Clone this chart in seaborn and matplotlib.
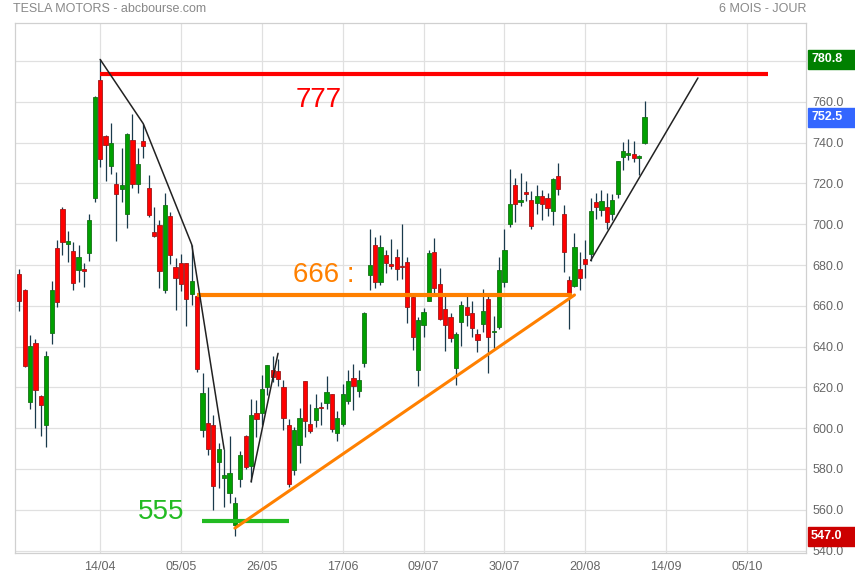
import numpy as np
import pandas as pd
import seaborn as sns
import matplotlib.pyplot as plt
from matplotlib.patches import Rectangle
from matplotlib.transforms import blended_transform_factory

# daily candles, 23/03 -> 07/09
dates = ['23/03', '24/03', '25/03', '26/03', '29/03', '30/03', '31/03', '01/04', '05/04', '06/04',
         '07/04', '08/04', '09/04', '12/04', '13/04', '14/04', '15/04', '16/04', '19/04', '20/04',
         '21/04', '22/04', '23/04', '26/04', '27/04', '28/04', '29/04', '30/04', '03/05', '04/05',
         '05/05', '06/05', '07/05', '10/05', '11/05', '12/05', '13/05', '14/05', '17/05', '18/05',
         '19/05', '20/05', '21/05', '24/05', '25/05', '26/05', '27/05', '28/05', '01/06', '02/06',
         '03/06', '04/06', '07/06', '08/06', '09/06', '10/06', '11/06', '14/06', '15/06', '16/06',
         '17/06', '18/06', '21/06', '22/06', '23/06', '24/06', '25/06', '28/06', '29/06', '30/06',
         '01/07', '02/07', '06/07', '07/07', '08/07', '09/07', '12/07', '13/07', '14/07', '15/07',
         '16/07', '19/07', '20/07', '21/07', '22/07', '23/07', '26/07', '27/07', '28/07', '29/07',
         '30/07', '02/08', '03/08', '04/08', '05/08', '06/08', '09/08', '10/08', '11/08', '12/08',
         '13/08', '16/08', '17/08', '18/08', '19/08', '20/08', '23/08', '24/08', '25/08', '26/08',
         '27/08', '30/08', '31/08', '01/09', '02/09', '03/09', '07/09']

opens = [675.8, 667.9, 613.0, 641.9, 615.6, 601.8, 646.6, 688.4, 707.7, 690.3,
         687.0, 677.4, 677.8, 685.7, 712.7, 770.7, 743.1, 728.7, 719.6, 717.4,
         704.8, 741.5, 719.8, 741.0, 718.0, 696.4, 699.5, 667.6, 703.8, 678.9,
         681.1, 680.8, 665.8, 664.9, 599.2, 602.5, 601.5, 583.4, 575.6, 568.0,
         552.6, 575.0, 596.1, 581.6, 607.3, 607.6, 620.2, 628.5, 627.8, 620.1,
         601.8, 579.7, 591.8, 623.0, 602.2, 603.9, 610.2, 612.2, 616.7, 597.5,
         601.9, 613.4, 624.5, 618.3, 632.0, 675.0, 689.6, 671.6, 684.7, 679.8,
         683.9, 679.0, 681.7, 664.3, 628.4, 650.7, 662.2, 686.3, 670.8, 658.4,
         654.7, 629.3, 652.0, 659.6, 656.4, 646.4, 651.0, 663.4, 647.0, 649.8,
         671.8, 700.0, 719.0, 711.0, 716.0, 711.9, 710.2, 714.0, 712.7, 706.3,
         723.7, 705.1, 672.7, 669.8, 678.2, 682.9, 685.4, 710.7, 707.0, 708.3,
         705.0, 714.7, 733.0, 734.1, 734.5, 732.3, 740.0]
highs = [677.8, 668.0, 645.5, 643.8, 616.5, 637.7, 672.0, 692.4, 708.2, 696.6,
         691.4, 689.6, 681.0, 704.8, 763.0, 780.8, 743.7, 749.4, 725.4, 737.3,
         744.8, 753.8, 737.4, 749.3, 724.0, 708.5, 702.3, 715.5, 706.0, 683.5,
         685.3, 681.0, 690.0, 665.1, 627.1, 620.4, 606.5, 592.9, 589.7, 596.3,
         566.2, 588.9, 596.7, 614.5, 614.0, 626.2, 631.1, 635.6, 633.8, 623.4,
         604.6, 600.6, 610.0, 623.1, 611.8, 616.6, 612.6, 625.5, 616.8, 608.5,
         621.5, 628.4, 631.4, 628.6, 657.2, 697.6, 693.8, 694.7, 687.5, 692.8,
         688.0, 700.0, 684.0, 665.7, 654.4, 658.9, 687.2, 693.3, 678.6, 666.1,
         656.7, 647.2, 662.4, 664.9, 662.2, 648.8, 668.2, 666.5, 655.0, 683.7,
         697.5, 726.9, 722.7, 724.9, 721.0, 716.3, 719.0, 716.6, 715.2, 722.8,
         729.9, 709.5, 674.6, 695.8, 686.6, 692.1, 712.7, 715.2, 717.0, 715.4,
         715.0, 731.0, 740.4, 742.0, 741.0, 734.0, 760.2]
lows = [657.5, 630.1, 609.5, 599.9, 596.0, 591.0, 641.1, 659.4, 684.7, 681.4,
        667.8, 671.7, 669.4, 682.1, 710.7, 728.0, 721.3, 724.6, 691.8, 710.7,
        698.0, 718.0, 715.5, 732.6, 703.4, 693.6, 668.5, 666.1, 680.5, 657.7,
        667.3, 650.0, 660.2, 627.6, 595.6, 586.8, 559.7, 570.5, 561.2, 563.4,
        547.0, 571.1, 580.0, 573.7, 595.7, 601.5, 616.2, 622.4, 620.6, 599.1,
        571.2, 577.2, 582.9, 595.5, 597.6, 600.5, 601.5, 609.2, 598.2, 593.5,
        601.3, 611.8, 608.9, 615.5, 630.0, 667.6, 668.7, 670.3, 675.9, 678.1,
        672.8, 673.3, 651.4, 638.3, 620.5, 644.7, 662.2, 666.3, 652.8, 637.9,
        642.2, 621.3, 640.5, 650.3, 644.6, 637.3, 647.1, 627.2, 639.4, 648.8,
        669.0, 698.4, 701.0, 708.9, 711.4, 697.6, 705.1, 701.9, 704.2, 699.4,
        714.3, 676.4, 648.8, 669.4, 667.6, 673.7, 682.2, 702.6, 704.0, 697.6,
        702.1, 712.7, 726.4, 731.3, 730.5, 724.2, 739.3]
closes = [662.2, 630.3, 640.4, 618.7, 611.3, 635.6, 667.9, 661.8, 691.1, 691.6,
          671.0, 683.8, 677.0, 702.0, 762.3, 732.2, 738.9, 739.8, 714.6, 719.0,
          744.1, 719.7, 729.4, 738.2, 704.7, 694.4, 677.0, 709.4, 684.9, 673.6,
          670.9, 663.5, 672.4, 629.0, 617.2, 589.7, 571.7, 589.9, 576.8, 577.9,
          563.5, 586.8, 580.9, 606.4, 604.7, 619.1, 630.9, 625.2, 623.9, 605.1,
          572.8, 599.1, 605.1, 603.6, 598.8, 610.1, 609.9, 617.7, 599.4, 604.9,
          616.6, 623.3, 620.8, 623.7, 656.6, 679.8, 671.9, 688.7, 680.8, 679.7,
          677.9, 678.9, 659.6, 644.7, 652.8, 657.0, 685.7, 668.5, 653.4, 650.6,
          644.2, 646.2, 660.5, 655.3, 649.3, 643.4, 657.6, 644.8, 647.0, 677.4,
          687.2, 709.7, 709.7, 711.9, 714.6, 699.1, 713.8, 710.0, 707.8, 722.3,
          717.2, 686.2, 665.7, 689.0, 673.5, 680.3, 706.3, 708.5, 711.2, 701.2,
          711.9, 730.9, 735.7, 734.1, 732.4, 733.6, 752.5]

tick_labels = ['14/04', '05/05', '26/05', '17/06', '09/07', '30/07', '20/08', '14/09', '05/10']

# drawn levels / trend lines (candle index, price)
resist_level = 773.5
neck_level = 665.5
low_level = 554.7
fall_idx = [15, 23, 32, 38]
bounce_line = ([43, 48], [573.7, 636.7])
rise_line = ([106, 125.9], [682.2, 771.7])
support_line = ([40, 103], [551.0, 665.3])

df = pd.DataFrame({'date': dates, 'open': opens, 'high': highs, 'low': lows, 'close': closes})
df['x'] = np.arange(len(df))
df['up'] = df['close'] >= df['open']

sns.set_theme(style='white')
plt.rcParams['font.family'] = ['Liberation Sans', 'DejaVu Sans']

fig = plt.figure(figsize=(8.55, 5.8), dpi=100)
ax = fig.add_axes([14.7/855, 27/580, (806-14.7)/855, (553-22.7)/580])

GREEN = '#00a000'
RED = '#ff0000'
ax.vlines(df['x'], df['low'], df['high'], color='#1a3a4c', lw=0.9, zorder=2)
body = (df['close'] - df['open']).abs().clip(lower=0.7)
bottom = df[['open', 'close']].min(axis=1)
ax.bar(df['x'], body, bottom=bottom, width=0.78,
       color=np.where(df['up'], GREEN, RED),
       edgecolor=np.where(df['up'], '#167016', '#a01818'), linewidth=0.6, zorder=3)

# levels
ax.plot([15, 138.9], [resist_level] * 2, color='#ff0000', lw=3, zorder=4, solid_capstyle='butt')
ax.plot([33, 102.6], [neck_level] * 2, color='#ff8000', lw=3, zorder=4, solid_capstyle='butt')
ax.plot([33.9, 50], [low_level] * 2, color='#22bb22', lw=3, zorder=4, solid_capstyle='butt')
sns.lineplot(x=support_line[0], y=support_line[1], color='#ff8000', lw=2.2, ax=ax,
             sort=False, estimator=None, zorder=4, legend=False)
sns.lineplot(x=fall_idx, y=[highs[i] for i in fall_idx], color='#222222', lw=1.1, ax=ax,
             sort=False, estimator=None, zorder=4, legend=False)
sns.lineplot(x=bounce_line[0], y=bounce_line[1], color='#222222', lw=1.1, ax=ax,
             sort=False, estimator=None, zorder=4, legend=False)
sns.lineplot(x=rise_line[0], y=rise_line[1], color='#222222', lw=1.1, ax=ax,
             sort=False, estimator=None, zorder=4, legend=False)

ax.text(51.2, 760.9, '777', color='#ff0000', fontsize=20, va='center', ha='left', zorder=5)
ax.text(50.8, 675.1, '666 :', color='#ff8000', fontsize=20, va='center', ha='left', zorder=5)
ax.text(22.0, 558.9, '555', color='#22bb22', fontsize=20, va='center', ha='left', zorder=5)

ax.set_xlim(-0.85, 145.95)
ax.set_ylim(538.8, 798.8)
ax.set_xticks([15 * (k + 1) for k in range(len(tick_labels))])
ax.set_xticklabels(tick_labels)
yt = np.arange(540, 781, 20)
ax.set_yticks(yt)
# 780.0 sits under the high tag, as in the source chart
ax.set_yticklabels([f'{v:.1f}' if v < 780 else '' for v in yt])
ax.yaxis.tick_right()
ax.tick_params(axis='both', length=0, labelsize=9, labelcolor='#666666')
ax.tick_params(axis='y', pad=4.5)
ax.tick_params(axis='x', pad=6)
ax.grid(True, color='#e0e0e0', lw=0.9)
ax.set_axisbelow(True)
for s in ax.spines.values():
    s.set_color('#d0d0d0')
    s.set_linewidth(0.9)

# price tags on the right
tr = blended_transform_factory(fig.transFigure, ax.transData)
for val, col in [(max(highs), '#008000'), (closes[-1], '#3366ff'), (min(lows), '#cc0000')]:
    ax.add_patch(Rectangle((808/855, val - 4.6), 47/855, 9.2, transform=tr,
                           color=col, clip_on=False, zorder=6))
    ax.text(811/855, val, f'{val:.1f}', transform=tr, color='white', fontsize=9,
            fontweight='bold', va='center', ha='left', zorder=7, clip_on=False)

fig.text(13/855, 1 - 9/580, 'TESLA MOTORS - abcbourse.com', color='#888888', fontsize=9, va='center')
fig.text(806/855, 1 - 9/580, '6 MOIS - JOUR', color='#888888', fontsize=9, va='center', ha='right')

fig.savefig('out.png', dpi=100)
